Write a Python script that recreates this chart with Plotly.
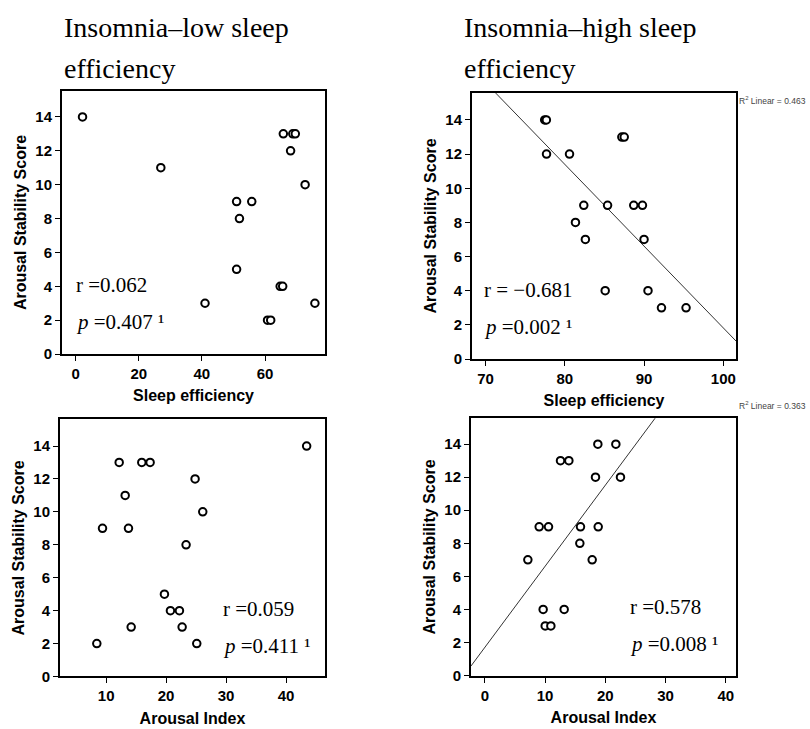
import numpy as np
import plotly.graph_objects as go

# ---------------- data ----------------
low_se_x = [2.2, 27.0, 41.0, 51.0, 55.8, 51.9, 51.0, 64.8, 65.6, 60.8, 61.8, 65.8, 68.8, 69.6, 68.1, 72.7, 75.8]
low_se_y = [14, 11, 3, 9, 9, 8, 5, 4, 4, 2, 2, 13, 13, 13, 12, 10, 3]

high_se_x = [77.47, 77.68, 87.2, 87.5, 77.7, 80.6, 82.4, 85.4, 88.7, 89.8, 81.35, 82.6, 90.0, 85.1, 90.5, 92.2, 95.3]
high_se_y = [14, 14, 13, 13, 12, 12, 9, 9, 9, 9, 8, 7, 7, 4, 4, 3, 3]

low_ai_x = [43.44, 12.17, 15.94, 17.33, 24.83, 13.17, 26.11, 9.39, 13.72, 23.33, 19.72, 20.72, 22.22, 14.17, 22.67, 8.44, 25.11]
low_ai_y = [14, 13, 13, 13, 12, 11, 10, 9, 9, 8, 5, 4, 4, 3, 3, 2, 2]

high_ai_x = [18.76, 21.75, 12.56, 13.95, 18.37, 22.52, 9.02, 10.57, 15.88, 18.82, 15.77, 7.14, 17.82, 9.68, 13.17, 10.02, 10.96]
high_ai_y = [14, 14, 13, 13, 12, 12, 9, 9, 9, 9, 8, 7, 7, 4, 4, 3, 3]

y_ticks = [0, 2, 4, 6, 8, 10, 12, 14]
x_ticks_low_se = [0, 20, 40, 60]
x_ticks_high_se = [70, 80, 90, 100]
x_ticks_low_ai = [10, 20, 30, 40]
x_ticks_high_ai = [0, 10, 20, 30, 40]

titles_left = ["Insomnia–low sleep", "efficiency"]
titles_right = ["Insomnia–high sleep", "efficiency"]
stats = [("r =0.062", "<i>p</i> =0.407 ¹"),
         ("r = −0.681", "<i>p</i> =0.002 ¹"),
         ("r =0.059", "<i>p</i> =0.411 ¹"),
         ("r =0.578", "<i>p</i> =0.008 ¹")]
r2_labels = ["R<sup>2</sup> Linear = 0.463", "R<sup>2</sup> Linear = 0.363"]
x_titles = ["Sleep efficiency", "Sleep efficiency", "Arousal Index", "Arousal Index"]
y_title = "Arousal Stability Score"

W, H = 810, 729

def px(x):
    return x / W

def py(y):
    return 1 - y / H

# panel boxes in pixels (left, right, top, bottom)
boxes = [(62, 325, 92, 358), (472, 736, 94, 363), (60, 325, 424, 684), (471, 736, 423, 683)]
x_ranges = [[-4.3, 79.0], [68.3, 101.6], [2.3, 46.5], [-2.3, 41.7]]
y_ranges = [[0, 15.53], [0, 15.58], [0, 15.62], [0, 15.56]]
x_tickvals = [x_ticks_low_se, x_ticks_high_se, x_ticks_low_ai, x_ticks_high_ai]

series = [(low_se_x, low_se_y, False), (high_se_x, high_se_y, True),
          (low_ai_x, low_ai_y, False), (high_ai_x, high_ai_y, True)]

SANS = "Liberation Sans, Arial, sans-serif"
SERIF = "Liberation Serif, Times New Roman, serif"

def bold(vals):
    return [f"<b>{v}</b>" for v in vals]

fig = go.Figure()
layout = dict(width=W, height=H, margin=dict(l=0, r=0, t=0, b=0),
              paper_bgcolor="white", plot_bgcolor="white", showlegend=False)

for i, ((l, r, t, b), (xs, ys, fit)) in enumerate(zip(boxes, series)):
    n = i + 1
    xa = "x" if n == 1 else f"x{n}"
    ya = "y" if n == 1 else f"y{n}"
    if fit:
        k, c = np.polyfit(xs, ys, 1)
        lx = np.array(x_ranges[i])
        fig.add_trace(go.Scatter(x=lx, y=k * lx + c, mode="lines",
                                 line=dict(color="#333333", width=1),
                                 xaxis=xa, yaxis=ya, hoverinfo="skip"))
    fig.add_trace(go.Scatter(x=xs, y=ys, mode="markers",
                             marker=dict(symbol="circle", size=7.5, color="white",
                                         line=dict(color="black", width=2)),
                             xaxis=xa, yaxis=ya, cliponaxis=False))
    common = dict(showline=True, mirror=True, linecolor="black", linewidth=2,
                  ticks="outside", ticklen=5, tickwidth=1, tickcolor="black",
                  showgrid=False, zeroline=False,
                  tickfont=dict(family=SANS, size=15, color="black", weight="bold"))
    layout["xaxis" if n == 1 else f"xaxis{n}"] = dict(
        domain=[px(l), px(r)], anchor=ya, range=x_ranges[i],
        tickmode="array", tickvals=x_tickvals[i], ticktext=bold(x_tickvals[i]),
        title=dict(text=f"<b>{x_titles[i]}</b>", standoff=9,
                   font=dict(family=SANS, size=16, color="black")),
        **common)
    layout["yaxis" if n == 1 else f"yaxis{n}"] = dict(
        domain=[py(b), py(t)], anchor=xa, range=y_ranges[i],
        tickmode="array", tickvals=y_ticks, ticktext=bold(y_ticks),
        title=dict(text=f"<b>{y_title}</b>", standoff=5,
                   font=dict(family=SANS, size=16, color="black")),
        **common)

fig.update_layout(**layout)

ann = []
# titles
for (x0, lines) in [(62, titles_left), (462, titles_right)]:
    for j, txt in enumerate(lines):
        ann.append(dict(text=txt, x=px(x0), y=py([28, 69][j]), xref="paper", yref="paper",
                        xanchor="left", yanchor="middle", showarrow=False,
                        font=dict(family=SERIF, size=28, color="black")))
# statistics
stat_pos = [(74, 288, 326), (482, 293, 331), (221, 616, 653), (628, 614, 651)]
for (sx, ry, pyy), (rt, pt) in zip(stat_pos, stats):
    ann.append(dict(text=rt, x=px(sx), y=py(ry), xref="paper", yref="paper",
                    xanchor="left", yanchor="middle", showarrow=False,
                    font=dict(family=SERIF, size=21, color="black")))
    ann.append(dict(text=pt, x=px(sx), y=py(pyy), xref="paper", yref="paper",
                    xanchor="left", yanchor="middle", showarrow=False,
                    font=dict(family=SERIF, size=21, color="black")))
# R2 labels
for (rx, ryy), txt in zip([(737, 102), (737, 410)], r2_labels):
    ann.append(dict(text=txt, x=px(rx), y=py(ryy), xref="paper", yref="paper",
                    xanchor="left", yanchor="middle", showarrow=False,
                    font=dict(family=SANS, size=8.5, color="#444444")))
fig.update_layout(annotations=ann)

fig.write_html("out.html")
